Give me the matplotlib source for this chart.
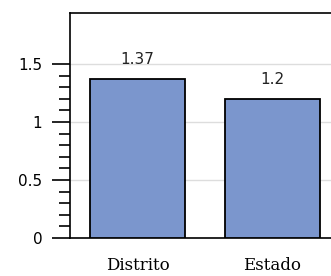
import matplotlib
matplotlib.use('Agg')
import matplotlib.pyplot as plt
from matplotlib.ticker import FixedLocator

categories = ['Distrito', 'Estado']
values = [1.37, 1.2]
value_labels = ['1.37', '1.2']

fig = plt.figure(figsize=(3.31, 2.76), dpi=100)
# axes run past the right edge, like the original cropped chart
ax = fig.add_axes([70/331, 38/276, 270/331, 225/276])

ax.bar(range(len(categories)), values, width=0.7, color='#7b96cd',
       edgecolor='black', linewidth=1.3, zorder=3)

for i, v in enumerate(values):
    ax.annotate(value_labels[i], (i, v), xytext=(0, 14), textcoords='offset points',
                ha='center', va='center', fontsize=11, color='#222222')

ax.set_xlim(-0.5, 1.5)
ax.set_ylim(0, 1.94)
ax.set_yticks([0, 0.5, 1, 1.5])
ax.set_yticklabels(['0', '0.5', '1', '1.5'])
ax.yaxis.set_minor_locator(FixedLocator([i / 10 for i in range(16) if i % 5]))
ax.grid(axis='y', color='#dddddd', linewidth=1, zorder=0)
ax.tick_params(axis='y', which='major', length=13, width=1.2, labelsize=11, pad=7)
ax.tick_params(axis='y', which='minor', length=8, width=1.2)
ax.set_xticks(range(len(categories)))
ax.set_xticklabels(categories, family='DejaVu Serif', fontsize=12)
ax.tick_params(axis='x', length=0, pad=14)
ax.spines['right'].set_visible(False)
for s in ['left', 'bottom', 'top']:
    ax.spines[s].set_linewidth(1.2)

fig.savefig('out.png', dpi=100)
